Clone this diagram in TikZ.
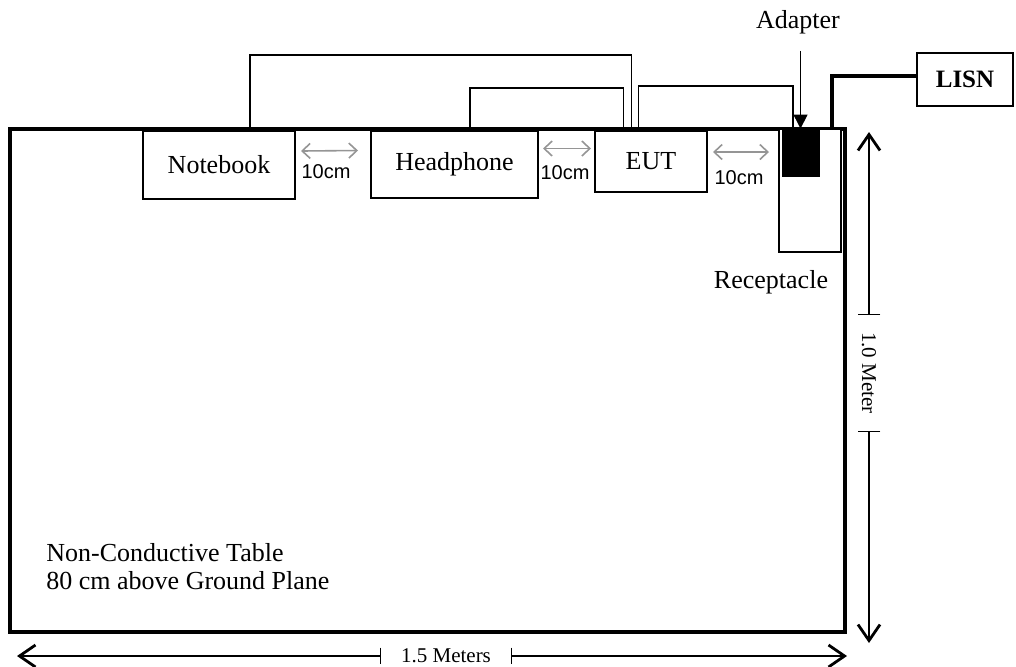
\documentclass[tikz,border=0pt]{standalone}
\usepackage{fontspec}
\setmainfont{Liberation Serif}
\newfontfamily\labsans{Liberation Sans}
\usetikzlibrary{arrows.meta,calc}
\definecolor{cGAP}{HTML}{959595}
\newcommand{\mainsize}{\fontsize{13}{14}\selectfont}
\newcommand{\dimsize}{\fontsize{10.5}{12}\selectfont}

\begin{document}
\begin{tikzpicture}[x=0.5pt, y=-0.5pt, font=\mainsize, >=Stealth,
  unit/.style={draw, line width=1pt, fill=white, inner sep=0pt},
  cable/.style={line width=0.8pt},
  gap/.style={cGAP, line width=0.8pt, {Straight Barb[length=4pt,width=7.5pt]}-{Straight Barb[length=4pt,width=7.5pt]}},
  gaplab/.style={font=\labsans\fontsize{10}{12}\selectfont, inner sep=0pt},
  dimline/.style={line width=0.6pt, -{Straight Barb[length=8pt,width=11pt,line width=1.4pt]}},
  dimlab/.style={font=\dimsize, inner sep=0pt}]
\useasboundingbox (0,0) rectangle (1016,666);
% table outline and its label
\node[draw, line width=1.8pt, minimum width=417.5pt, minimum height=251.5pt, inner sep=0pt] (table) at (427.5,380.5) {};
\node[anchor=north west, align=left, inner sep=0pt] (tablab) at (46,543) {Non-Conductive Table\\80 cm above Ground Plane};
% units on the table
\node[unit, minimum width=31pt, minimum height=61.5pt] (rcp) at (810,190.5) {};
\node[draw, fill=black, minimum width=18.5pt, minimum height=23.5pt, inner sep=0pt] (adp) at (800.5,152.5) {};
\node[unit, minimum width=76pt, minimum height=34pt] (nb) at (219,165) {Notebook};
\node[unit, minimum width=83.5pt, minimum height=33.5pt] (hp) at (454.5,164.5) {Headphone};
\node[unit, minimum width=56pt, minimum height=30.5pt] (eut) at (651,161.5) {EUT};
\node[unit, minimum width=48pt, minimum height=26.5pt, font=\fontsize{12.5}{14}\selectfont\bfseries] (lisn) at (965,79.5) {LISN};
\node (rcplab) at (771,282) {Receptacle};
\node (adlab) at (798,22) {Adapter};
\draw[line width=0.5pt, shorten <=5pt, -{Triangle[length=7pt,width=7pt]}] (adlab.south -| adp.north) -- (adp.north);
% cables
\draw[cable] ($(nb.north west)!0.7!(nb.north east)$) -- ++(0,-75) -| ($(eut.north west)!0.33!(eut.north east)$);
\draw[cable] ($(hp.north west)!0.59!(hp.north east)$) -- ++(0,-42) -| ($(eut.north west)!0.26!(eut.north east)$);
\draw[cable] ($(eut.north west)!0.39!(eut.north east)$) -- ++(0,-44) -| ($(adp.north west)!0.3!(adp.north east)$);
\draw[line width=2pt] ($(rcp.north west)!0.84!(rcp.north east)$) |- ([yshift=2pt]lisn.west);
% 10cm spacings
\draw[gap] ([shift={(2.5pt,7pt)}]nb.east) -- ([shift={(-6pt,7pt)}]hp.west);
\node[gaplab] (g1) at (326,172) {10cm};
\draw[gap] ([shift={(2pt,8pt)}]hp.east) -- ([shift={(-1.5pt,6.5pt)}]eut.west);
\node[gaplab] (g2) at (565,173) {10cm};
\draw[gap] ([shift={(2.5pt,4.75pt)}]eut.east) -- ([shift={(-4.5pt,19.25pt)}]rcp.west);
\node[gaplab] (g3) at (739,178) {10cm};
% table dimensions
\coordinate (wL) at (17,656);
\coordinate (wR) at (847,656);
\node[dimlab, minimum width=65pt, minimum height=8pt] (wlab) at (446,656) {1.5 Meters};
\draw[dimline] (wlab.west) -- (wL);
\draw[dimline] (wlab.east) -- (wR);
\draw[line width=0.6pt] (wlab.north west) -- (wlab.south west) (wlab.north east) -- (wlab.south east);
\coordinate (hT) at (869,132);
\coordinate (hB) at (869,643);
\node[dimlab, rotate=-90, minimum width=58pt, minimum height=11pt] (hlab) at (869,373) {1.0 Meter};
\draw[dimline] (hlab.west) -- (hT);
\draw[dimline] (hlab.east) -- (hB);
\draw[line width=0.6pt] (hlab.north west) -- (hlab.south west) (hlab.north east) -- (hlab.south east);
\end{tikzpicture}
\end{document}
